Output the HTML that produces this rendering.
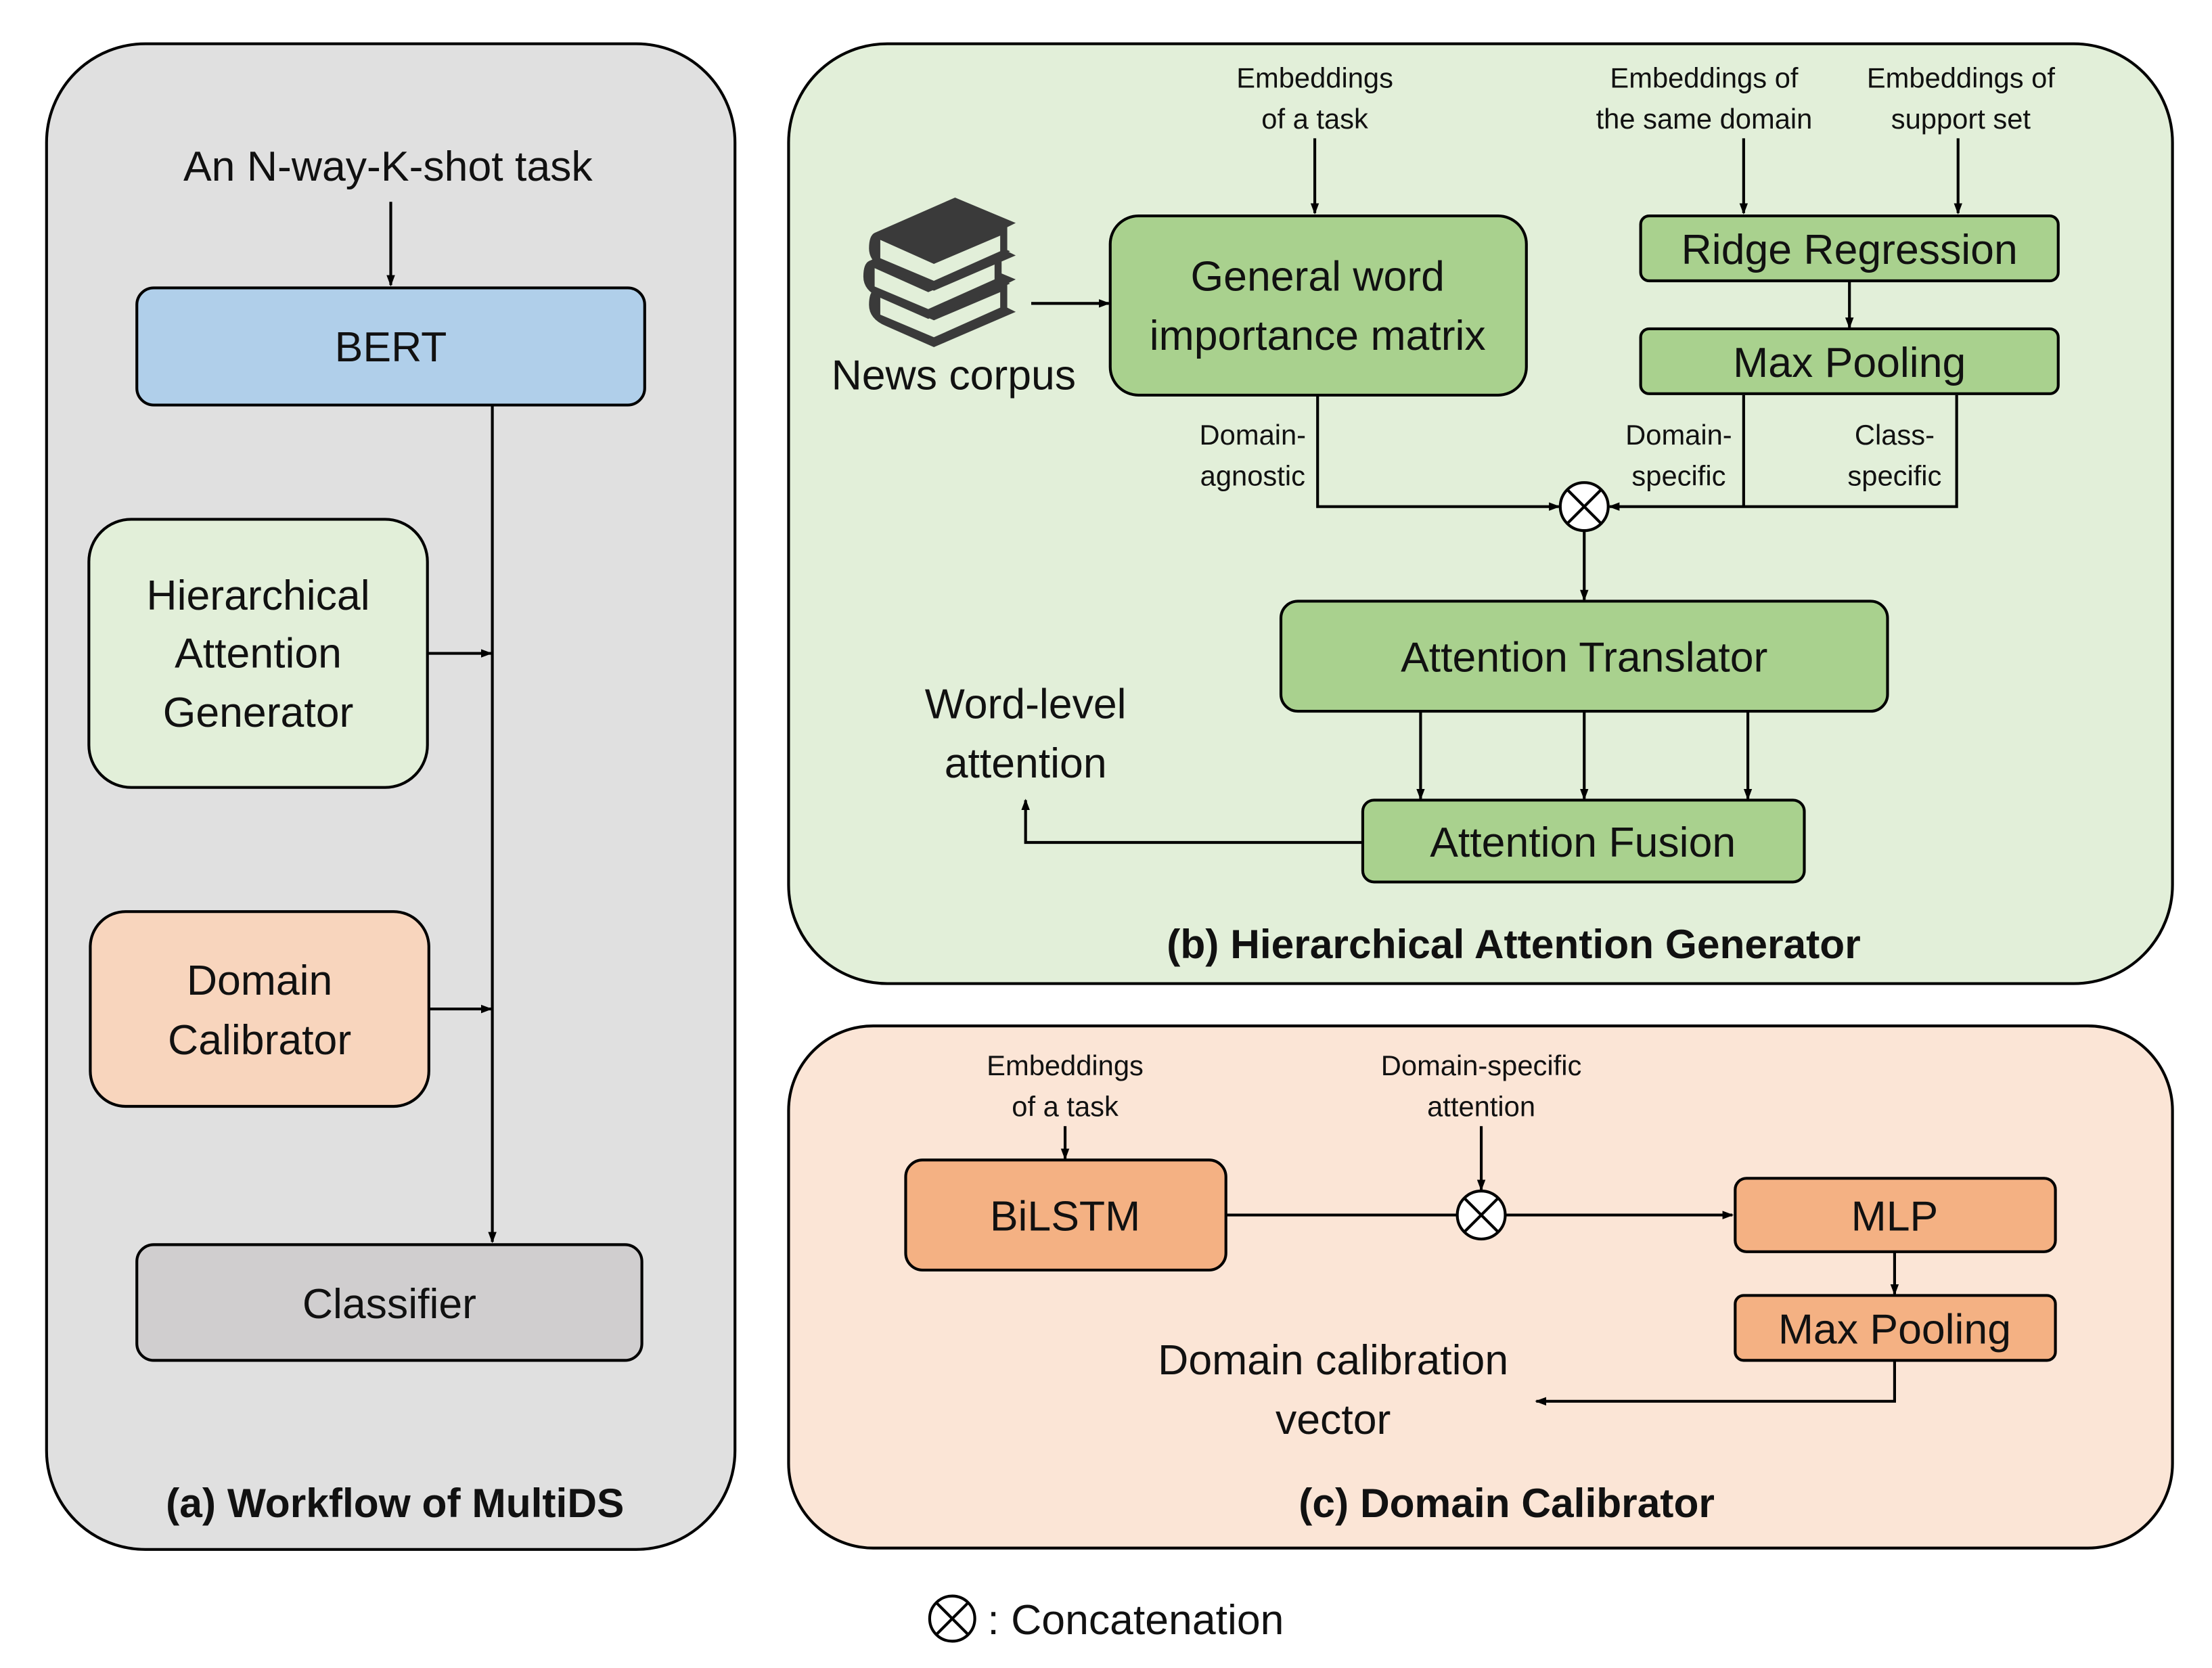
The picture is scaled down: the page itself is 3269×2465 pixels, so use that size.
<!DOCTYPE html>
<html><head><meta charset="utf-8"><style>
html,body{margin:0;padding:0;background:#fff}
svg{display:block}
text{font-family:"Liberation Sans",sans-serif;fill:#111}
</style></head><body>
<svg width="3269" height="2465" viewBox="0 0 1568 1182" preserveAspectRatio="none" xmlns="http://www.w3.org/2000/svg">
<defs><marker id="a" markerWidth="8" markerHeight="8" refX="7" refY="4" orient="auto" markerUnits="userSpaceOnUse"><path d="M0,1 L8,4 L0,7z" fill="#000"/></marker>
<g id="bk"><path d="M620,165 L677,140 L720,158 L714,161 L714,178 L720,181 L662,206 L628,191 Q616,186 616,176 Q616,167 620,165Z" fill="#3a3a3a"/><path d="M624,170 L662,187 L709,167 L709,178 L662,199 L624,183Z" fill="#e2efd9"/></g>
</defs>
<g stroke="#000" stroke-width="2">
<rect x="33" y="31" width="488" height="1067" rx="70" fill="#e0e0e0"/>
<rect x="559" y="31" width="981" height="666" rx="70" fill="#e2efd9"/>
<rect x="559" y="727" width="981" height="370" rx="60" fill="#fbe5d6"/>
<rect x="97" y="204" width="360" height="83" rx="12" fill="#b0cfea"/>
<rect x="63" y="368" width="240" height="190" rx="30" fill="#e2efd9"/>
<rect x="64" y="646" width="240" height="138" rx="25" fill="#f8d5bd"/>
<rect x="97" y="882" width="358" height="82" rx="12" fill="#d0cecf"/>
<rect x="787" y="153" width="295" height="127" rx="20" fill="#a9d18e"/>
<rect x="1163" y="153" width="296" height="46" rx="6" fill="#a9d18e"/>
<rect x="1163" y="233" width="296" height="46" rx="6" fill="#a9d18e"/>
<rect x="908" y="426" width="430" height="78" rx="12" fill="#a9d18e"/>
<rect x="966" y="567" width="313" height="58" rx="8" fill="#a9d18e"/>
<rect x="642" y="822" width="227" height="78" rx="12" fill="#f4b183"/>
<rect x="1230" y="835" width="227" height="52" rx="8" fill="#f4b183"/>
<rect x="1230" y="918" width="227" height="46" rx="6" fill="#f4b183"/>
</g>
<use href="#bk" transform="translate(0,40)"/>
<use href="#bk" transform="translate(-4,20)"/>
<use href="#bk"/>
<g stroke="#000" stroke-width="2" fill="none">
<path d="M277,143V202" marker-end="url(#a)"/>
<path d="M349,287V880" marker-end="url(#a)"/>
<path d="M303,463H348" marker-end="url(#a)"/>
<path d="M304,715H348" marker-end="url(#a)"/>
<path d="M731,215H786" marker-end="url(#a)"/>
<path d="M932,98V151" marker-end="url(#a)"/>
<path d="M1236,98V151" marker-end="url(#a)"/>
<path d="M1388,98V151" marker-end="url(#a)"/>
<path d="M1311,199V232" marker-end="url(#a)"/>
<path d="M934,280V359H1105" marker-end="url(#a)"/>
<path d="M1387,280V359H1141" marker-end="url(#a)"/>
<path d="M1236,280V359"/>
<path d="M1123,376V425" marker-end="url(#a)"/>
<path d="M1007,504V566" marker-end="url(#a)"/>
<path d="M1123,504V566" marker-end="url(#a)"/>
<path d="M1239,504V566" marker-end="url(#a)"/>
<path d="M966,597H727V567" marker-end="url(#a)"/>
<path d="M755,798V821" marker-end="url(#a)"/>
<path d="M1050,798V843" marker-end="url(#a)"/>
<path d="M869,861H1033"/>
<path d="M1067,861H1228" marker-end="url(#a)"/>
<path d="M1343,887V917" marker-end="url(#a)"/>
<path d="M1343,964V993H1089" marker-end="url(#a)"/>
<g>
<circle cx="1123" cy="359" r="17" fill="#fff"/><path d="M1111,347L1135,371M1135,347L1111,371"/>
<circle cx="1050" cy="861" r="17" fill="#fff"/><path d="M1038,849L1062,873M1062,849L1038,873"/>
<circle cx="675" cy="1147" r="16" fill="#fff"/><path d="M664,1136L686,1158M686,1136L664,1158"/>
</g>
</g>
<g font-size="30" text-anchor="middle">
<text x="275" y="128">An N-way-K-shot task</text>
<text x="277" y="256">BERT</text>
<text x="183" y="432">Hierarchical</text>
<text x="183" y="473">Attention</text>
<text x="183" y="515">Generator</text>
<text x="184" y="705">Domain</text>
<text x="184" y="747">Calibrator</text>
<text x="276" y="934">Classifier</text>
<text x="676" y="276">News corpus</text>
<text x="934" y="206">General word</text>
<text x="934" y="248">importance matrix</text>
<text x="1311" y="187">Ridge Regression</text>
<text x="1311" y="267">Max Pooling</text>
<text x="1123" y="476">Attention Translator</text>
<text x="1122" y="607">Attention Fusion</text>
<text x="727" y="509">Word-level</text>
<text x="727" y="551">attention</text>
<text x="755" y="872">BiLSTM</text>
<text x="1343" y="872">MLP</text>
<text x="1343" y="952">Max Pooling</text>
<text x="945" y="974">Domain calibration</text>
<text x="945" y="1016">vector</text>
<text x="700" y="1158" text-anchor="start">: Concatenation</text>
</g>
<g font-size="29" font-weight="bold" text-anchor="middle">
<text x="280" y="1075">(a) Workflow of MultiDS</text>
<text x="1073" y="679">(b) Hierarchical Attention Generator</text>
<text x="1068" y="1075">(c) Domain Calibrator</text>
</g>
<g font-size="20" text-anchor="middle">
<text x="932" y="62">Embeddings</text><text x="932" y="91">of a task</text>
<text x="1208" y="62">Embeddings of</text><text x="1208" y="91">the same domain</text>
<text x="1390" y="62">Embeddings of</text><text x="1390" y="91">support set</text>
<text x="888" y="315">Domain-</text><text x="888" y="344">agnostic</text>
<text x="1190" y="315">Domain-</text><text x="1190" y="344">specific</text>
<text x="1343" y="315">Class-</text><text x="1343" y="344">specific</text>
<text x="755" y="762">Embeddings</text><text x="755" y="791">of a task</text>
<text x="1050" y="762">Domain-specific</text><text x="1050" y="791">attention</text>
</g>
</svg>
</body></html>
